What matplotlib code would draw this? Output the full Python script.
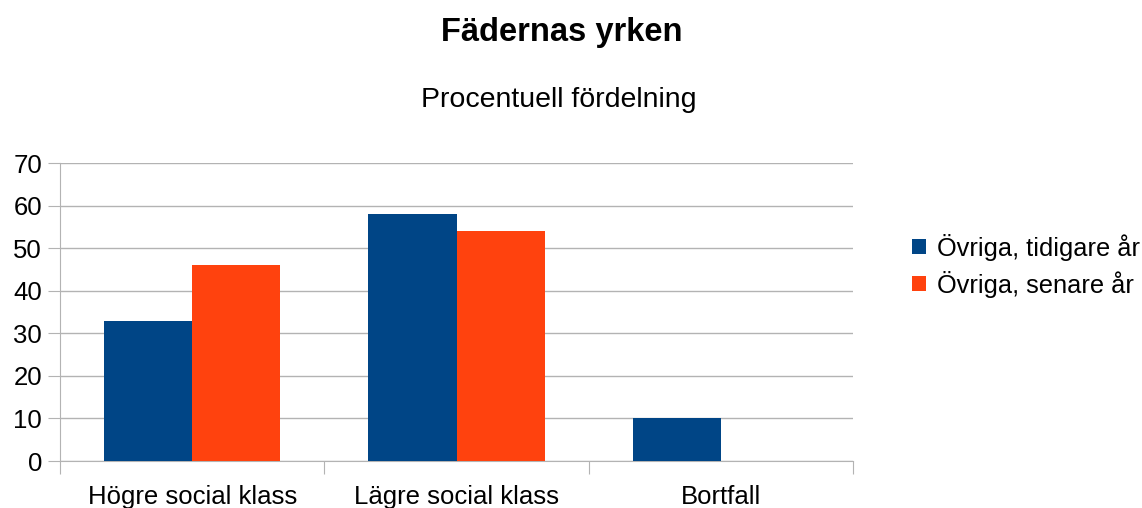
import numpy as np
import matplotlib.pyplot as plt

plt.rcParams['font.family'] = ['Liberation Sans', 'DejaVu Sans']

categories = ["Högre social klass", "Lägre social klass", "Bortfall"]
series_names = ["Övriga, tidigare år", "Övriga, senare år"]
tidigare = [33, 58, 10]
senare = [46, 54, 0]
colors = ["#004586", "#ff420e"]

fig = plt.figure(figsize=(11.42, 5.08), dpi=100)
ax = fig.add_axes([0.0525, 0.0925, 0.6945, 0.5865])

x = np.arange(len(categories))
w = 1 / 3
b1 = ax.bar(x - w / 2, tidigare, w, color=colors[0], label=series_names[0], zorder=3)
b2 = ax.bar(x + w / 2, senare, w, color=colors[1], label=series_names[1], zorder=3)

ax.set_xlim(-0.5, 2.5)
ax.set_ylim(0, 70)
ax.set_yticks(range(0, 71, 10))
ax.yaxis.grid(True, color="#b3b3b3", lw=1)
ax.set_axisbelow(True)

ax.set_xticks([-0.5, 0.5, 1.5, 2.5])
ax.set_xticklabels([])
ax.set_xticks(x, minor=True)
ax.set_xticklabels(categories, minor=True, fontsize=18.5)
ax.tick_params(axis="x", which="minor", length=0, pad=17)
ax.tick_params(axis="x", which="major", length=9, color="#b3b3b3")
ax.tick_params(axis="y", length=9, color="#b3b3b3", labelsize=18.5, pad=4)

for s in ["top", "right"]:
    ax.spines[s].set_visible(False)
for s in ["left", "bottom"]:
    ax.spines[s].set_color("#b3b3b3")

fig.text(0.4917, 0.937, "Fädernas yrken", ha="center", va="center", fontsize=23.5, fontweight="bold")
fig.text(0.489, 0.803, "Procentuell fördelning", ha="center", va="center", fontsize=20.5)

fig.legend(handles=[b1, b2], loc="center left", bbox_to_anchor=(0.799, 0.477), frameon=False,
           fontsize=18.3, handlelength=0.55, handleheight=0.55, handletextpad=0.4, labelspacing=0.4,
           borderaxespad=0, borderpad=0)

fig.savefig("out.png", dpi=100)
